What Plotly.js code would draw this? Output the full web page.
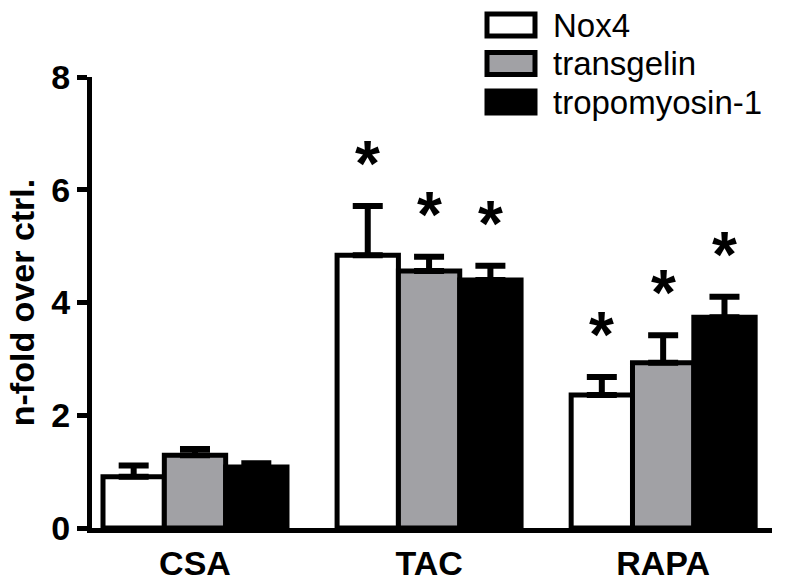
<!DOCTYPE html>
<html>
<head>
<meta charset="utf-8">
<script src="https://cdn.plot.ly/plotly-3.0.1.min.js"></script>
<style>html,body{margin:0;padding:0;background:#fff;}#chart{width:787px;height:586px;}</style>
</head>
<body>
<div id="chart"></div>
<script>
const categories = ['CSA', 'TAC', 'RAPA'];
const seriesNames = ['Nox4', 'transgelin', 'tropomyosin-1'];
const nox4 = [0.91, 4.84, 2.36];
const nox4Err = [0.20, 0.87, 0.32];
const transgelin = [1.29, 4.56, 2.93];
const transgelinErr = [0.11, 0.25, 0.49];
const tropomyosin = [1.08, 4.40, 3.74];
const tropomyosinErr = [0.07, 0.25, 0.36];
const significant = [[false, true, true], [false, true, true], [false, true, true]];
const yTicks = [0, 2, 4, 6, 8];

const values = [nox4, transgelin, tropomyosin];
const errs = [nox4Err, transgelinErr, tropomyosinErr];
const fills = ['#ffffff', '#a1a1a5', '#000000'];

const W = 787, H = 586;
const margin = {l: 92, r: 15, t: 77, b: 58};
const plotW = W - margin.l - margin.r;
const plotH = H - margin.t - margin.b;
const xRange = [-0.44, 2.465];
const bargap = 0.214;
const barPx = plotW / (xRange[1] - xRange[0]) * (1 - bargap) / 3;

const traces = values.map((v, i) => ({
  type: 'bar',
  name: seriesNames[i],
  x: categories,
  y: v,
  marker: {color: fills[i], line: {color: '#000', width: 5}},
  error_y: {type: 'data', array: errs[i], arrayminus: v.map(() => 0), symmetric: false,
            color: '#000', thickness: 6, width: 15},
  showlegend: false,
  hoverinfo: 'skip'
}));

const annotations = [];
const shapes = [];
values.forEach((v, i) => {
  v.forEach((val, j) => {
    if (significant[i][j]) {
      annotations.push({
        x: categories[j], xref: 'x', y: val + errs[i][j], yref: 'y',
        xshift: (i - 1) * barPx, yshift: 4, yanchor: 'bottom', xanchor: 'center',
        text: '*', showarrow: false,
        font: {family: 'Liberation Sans, Arial, sans-serif', size: 64, weight: 'bold', color: '#000'}
      });
    }
  });
});

// custom legend
const px2x = px => (px - margin.l) / plotW;
const py2y = py => (H - margin.b - py) / plotH;
seriesNames.forEach((name, i) => {
  const top = 12 + i * 38.5;
  shapes.push({
    type: 'rect', xref: 'paper', yref: 'paper',
    x0: px2x(487), x1: px2x(535), y0: py2y(top + 24), y1: py2y(top + 2),
    fillcolor: fills[i], line: {color: '#000', width: 5}
  });
  annotations.push({
    xref: 'paper', yref: 'paper', x: px2x(551), y: py2y(top + 13),
    xanchor: 'left', yanchor: 'middle', text: name, showarrow: false,
    font: {family: 'Liberation Sans, Arial, sans-serif', size: 33, color: '#000'}
  });
});

const layout = {
  width: W, height: H,
  margin: margin,
  paper_bgcolor: '#fff', plot_bgcolor: '#fff',
  barmode: 'group', bargap: bargap, bargroupgap: 0,
  font: {family: 'Liberation Sans, Arial, sans-serif', color: '#000'},
  xaxis: {
    range: xRange, showline: true, linewidth: 5, linecolor: '#000',
    ticks: '', showgrid: false, zeroline: false,
    tickfont: {size: 34, weight: 'bold', color: '#000'},
    ticklabelstandoff: 1
  },
  yaxis: {
    range: [0, 8], tickvals: yTicks, showline: true, linewidth: 5, linecolor: '#000',
    ticks: 'outside', ticklen: 10, tickwidth: 5, tickcolor: '#000',
    showgrid: false, zeroline: false,
    tickfont: {size: 34, weight: 'bold', color: '#000'},
    title: {text: 'n-fold over ctrl.', font: {size: 34, weight: 'bold', color: '#000'}, standoff: 8}
  },
  annotations: annotations,
  shapes: shapes,
  showlegend: false
};

Plotly.newPlot('chart', traces, layout, {displayModeBar: false, staticPlot: true});
</script>
</body>
</html>
